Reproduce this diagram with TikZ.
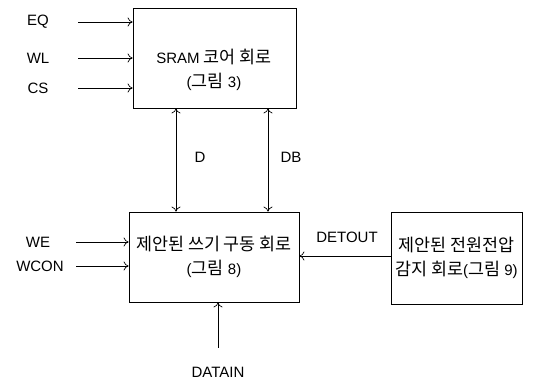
\documentclass[tikz,border=0pt]{standalone}
\usepackage{fontspec}
\setmainfont{Liberation Sans}
\newfontfamily\kr[Scale=1.16]{Noto Sans CJK KR}
\usetikzlibrary{arrows.meta,positioning}

\begin{document}
\begin{tikzpicture}[
  x=1pt, y=-1pt,
  font=\fontsize{15}{24}\selectfont,
  block/.style={draw, line width=0.8pt, align=center, inner sep=0pt},
  sig/.style={inner sep=0pt},
  arr/.style={-{To[length=5pt,width=9pt]}, line width=0.7pt},
  biarr/.style={{To[length=5pt,width=9pt]}-{To[length=5pt,width=9pt]}, line width=0.7pt}
]
\useasboundingbox (0,0) rectangle (535,381);

% blocks
\node[block, minimum width=163pt, minimum height=100pt] (sram) at (214.5,58) {};
\node[align=center, inner sep=0pt] (sramtxt) at (214,70) {SRAM {\kr 코어 회로}\\({\kr 그림} 3)};
\node[block, minimum width=170pt, minimum height=90pt] (wd) at (214,257) {{\kr 제안된 쓰기 구동 회로}\\({\kr 그림} 8)};
\node[block, minimum width=131pt, minimum height=92pt] (det) at (456.5,258) {{\kr 제안된 전원전압}\\{\kr 감지 회로}({\kr 그림} 9)};

% signals
\node[sig] (eq) at (38,22) {EQ};
\node[sig] (wl) at (38,58) {WL};
\node[sig] (cs) at (38,88) {CS};
\node[sig] (we) at (38,242) {WE};
\node[sig] (wcon) at (40,266) {WCON};
\node[sig] (datain) at (218,372) {DATAIN};
\node[sig] (d) at (200,157) {D};
\node[sig] (db) at (291,157) {DB};
\node[sig] (detout) at (347,237) {DETOUT};

\draw[arr] (eq) ++(40,0) -- (eq -| sram.west);
\draw[arr] (wl) ++(40,0) -- (wl -| sram.west);
\draw[arr] (cs) ++(40,0) -- (cs -| sram.west);
\draw[arr] (we) ++(38,0) -- (we -| wd.west);
\draw[arr] (wcon) ++(36,0) -- (wcon -| wd.west);

\draw[biarr] ([xshift=-38.5pt]sram.south) -- ([xshift=-38.5pt]sram.south |- wd.north);
\draw[biarr] ([xshift=53.5pt]sram.south) -- ([xshift=53.5pt]sram.south |- wd.north);

\draw[arr] ([yshift=2pt]det.west) -- ([yshift=2pt]det.west -| wd.east);
\draw[arr] (datain.north) ++(0,-19) -- (datain |- wd.south);
\end{tikzpicture}
\end{document}
